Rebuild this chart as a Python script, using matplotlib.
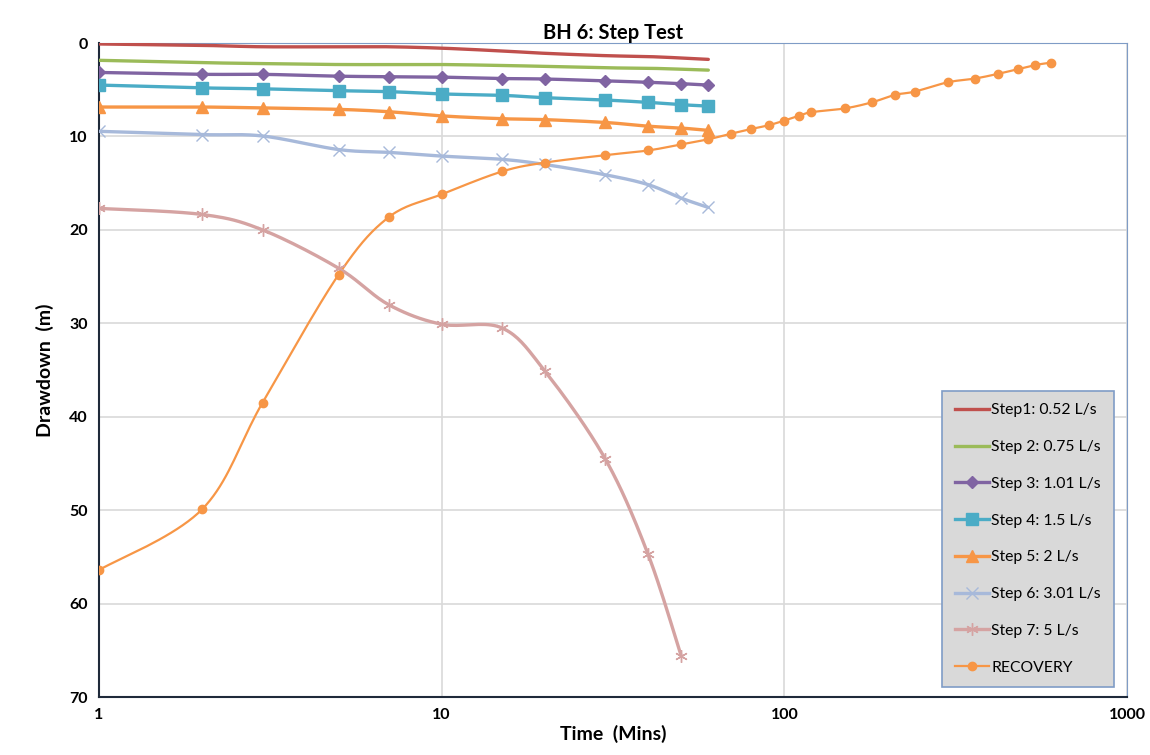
import numpy as np
import matplotlib
matplotlib.use("Agg")
import matplotlib.pyplot as plt

plt.rcParams['font.family'] = ['Lato', 'DejaVu Sans']

# time (mins) for the pumping steps
t_step = [1, 2, 3, 5, 7, 10, 15, 20, 30, 40, 50, 60]
step1 = [0.1, 0.25, 0.4, 0.4, 0.4, 0.55, 0.85, 1.1, 1.35, 1.45, 1.6, 1.75]
step2 = [1.85, 2.1, 2.2, 2.3, 2.3, 2.3, 2.4, 2.5, 2.65, 2.7, 2.8, 2.9]
step3 = [3.15, 3.35, 3.35, 3.55, 3.6, 3.65, 3.8, 3.85, 4.05, 4.2, 4.35, 4.5]
step4 = [4.5, 4.8, 4.9, 5.1, 5.2, 5.45, 5.6, 5.85, 6.1, 6.35, 6.6, 6.75]
step5 = [6.85, 6.85, 6.95, 7.1, 7.35, 7.8, 8.1, 8.2, 8.5, 8.9, 9.1, 9.35]
step6 = [9.45, 9.8, 9.95, 11.4, 11.7, 12.1, 12.45, 13.0, 14.1, 15.15, 16.6, 17.6]
t_step7 = [1, 2, 3, 5, 7, 10, 15, 20, 30, 40, 50]
step7 = [17.7, 18.35, 20.0, 24.1, 28.0, 30.1, 30.5, 35.1, 44.5, 54.7, 65.6]

t_rec = [1, 2, 3, 5, 7, 10, 15, 20, 30, 40, 50, 60, 70, 80, 90, 100, 110, 120,
         150, 180, 210, 240, 300, 360, 420, 480, 540, 600]
recovery = [56.4, 49.9, 38.5, 24.8, 18.65, 16.2, 13.75, 12.8, 12.0, 11.5, 10.85, 10.3,
            9.7, 9.2, 8.8, 8.3, 7.8, 7.4, 7.0, 6.35, 5.55, 5.2, 4.2, 3.8, 3.3, 2.8, 2.35, 2.1]

labels = ['Step1: 0.52 L/s', 'Step 2: 0.75 L/s', 'Step 3: 1.01 L/s', 'Step 4: 1.5 L/s',
          'Step 5: 2 L/s', 'Step 6: 3.01 L/s', 'Step 7: 5 L/s', 'RECOVERY']


def smooth(x, y, n=20):
    # Excel-like smoothed line: Catmull-Rom through the points in log-x space
    lx = np.log10(np.asarray(x, float))
    y = np.asarray(y, float)
    P = np.column_stack([lx, y])
    P = np.vstack([P[0], P, P[-1]])
    out = []
    s = np.linspace(0, 1, n, endpoint=False)[:, None]
    for i in range(1, len(P) - 2):
        p0, p1, p2, p3 = P[i - 1], P[i], P[i + 1], P[i + 2]
        c1 = p1 + (p2 - p0) / 6
        c2 = p2 - (p3 - p1) / 6
        b = ((1 - s) ** 3) * p1 + 3 * ((1 - s) ** 2) * s * c1 + 3 * (1 - s) * s ** 2 * c2 + s ** 3 * p2
        out.append(b)
    out.append(P[-2][None, :])
    out = np.vstack(out)
    return 10 ** out[:, 0], out[:, 1]


fig = plt.figure(figsize=(11.5, 7.55), dpi=100)
ax = fig.add_axes([0.0861, 0.0768, 0.8939, 0.8662])

series = [
    (t_step, step1, '#C0504D', None, 6, 2.4),
    (t_step, step2, '#9BBB59', None, 6, 2.4),
    (t_step, step3, '#8064A2', 'D', 6, 2.4),
    (t_step, step4, '#4BACC6', 's', 8, 2.4),
    (t_step, step5, '#F79646', '^', 8, 2.4),
    (t_step, step6, '#A7B9DA', 'x', 8, 2.4),
    (t_step7, step7, '#D5A3A2', (6, 2, 0), 9, 2.4),
    (t_rec, recovery, '#F79646', 'o', 6, 1.6),
]

handles = []
for (x, y, c, m, ms, lw), lab in zip(series, labels):
    sx, sy = smooth(x, y)
    ax.plot(sx, sy, color=c, lw=lw, solid_capstyle='round', zorder=3)
    if m is not None:
        ax.plot(x, y, ls='none', marker=m, ms=ms, color=c, mec=c, mew=1.0, zorder=4)
    h, = ax.plot([], [], color=c, lw=lw, marker=m, ms=ms, mec=c, mew=1.0)
    handles.append(h)

ax.set_xscale('log')
ax.set_xlim(1, 1000)
ax.set_ylim(70, 0)
ax.set_xticks([1, 10, 100, 1000])
ax.set_xticklabels(['1', '10', '100', '1000'])
ax.xaxis.set_minor_locator(matplotlib.ticker.NullLocator())
ax.set_yticks(range(0, 71, 10))
ax.tick_params(length=0, labelsize=11.5, pad=8)
for lab in ax.get_xticklabels() + ax.get_yticklabels():
    lab.set_fontweight('bold')
ax.grid(True, color='#D9D9D9', lw=1.2)
ax.set_axisbelow(True)

ax.spines['left'].set_color('#1F2A3A')
ax.spines['bottom'].set_color('#1F2A3A')
ax.spines['left'].set_linewidth(1.5)
ax.spines['bottom'].set_linewidth(1.5)
ax.spines['top'].set_color('#7F9CC6')
ax.spines['right'].set_color('#7F9CC6')

ax.set_title('BH 6: Step Test', fontsize=14.5, fontweight='bold', pad=3)
ax.set_ylabel('Drawdown  (m)', fontsize=14, fontweight='bold', labelpad=11)
ax.set_xlabel('Time  (Mins)', fontsize=14, fontweight='bold', labelpad=2)

leg = ax.legend(handles, labels, loc='lower right', bbox_to_anchor=(0.987, 0.015),
                fontsize=11.3, frameon=True, fancybox=False, facecolor='#D9D9D9',
                edgecolor='#7F9CC6', framealpha=1, handlelength=2.2, handletextpad=0.15,
                labelspacing=1.45, borderpad=0.8, borderaxespad=0)
leg.get_frame().set_linewidth(1.2)

fig.savefig('out.png', dpi=100)
